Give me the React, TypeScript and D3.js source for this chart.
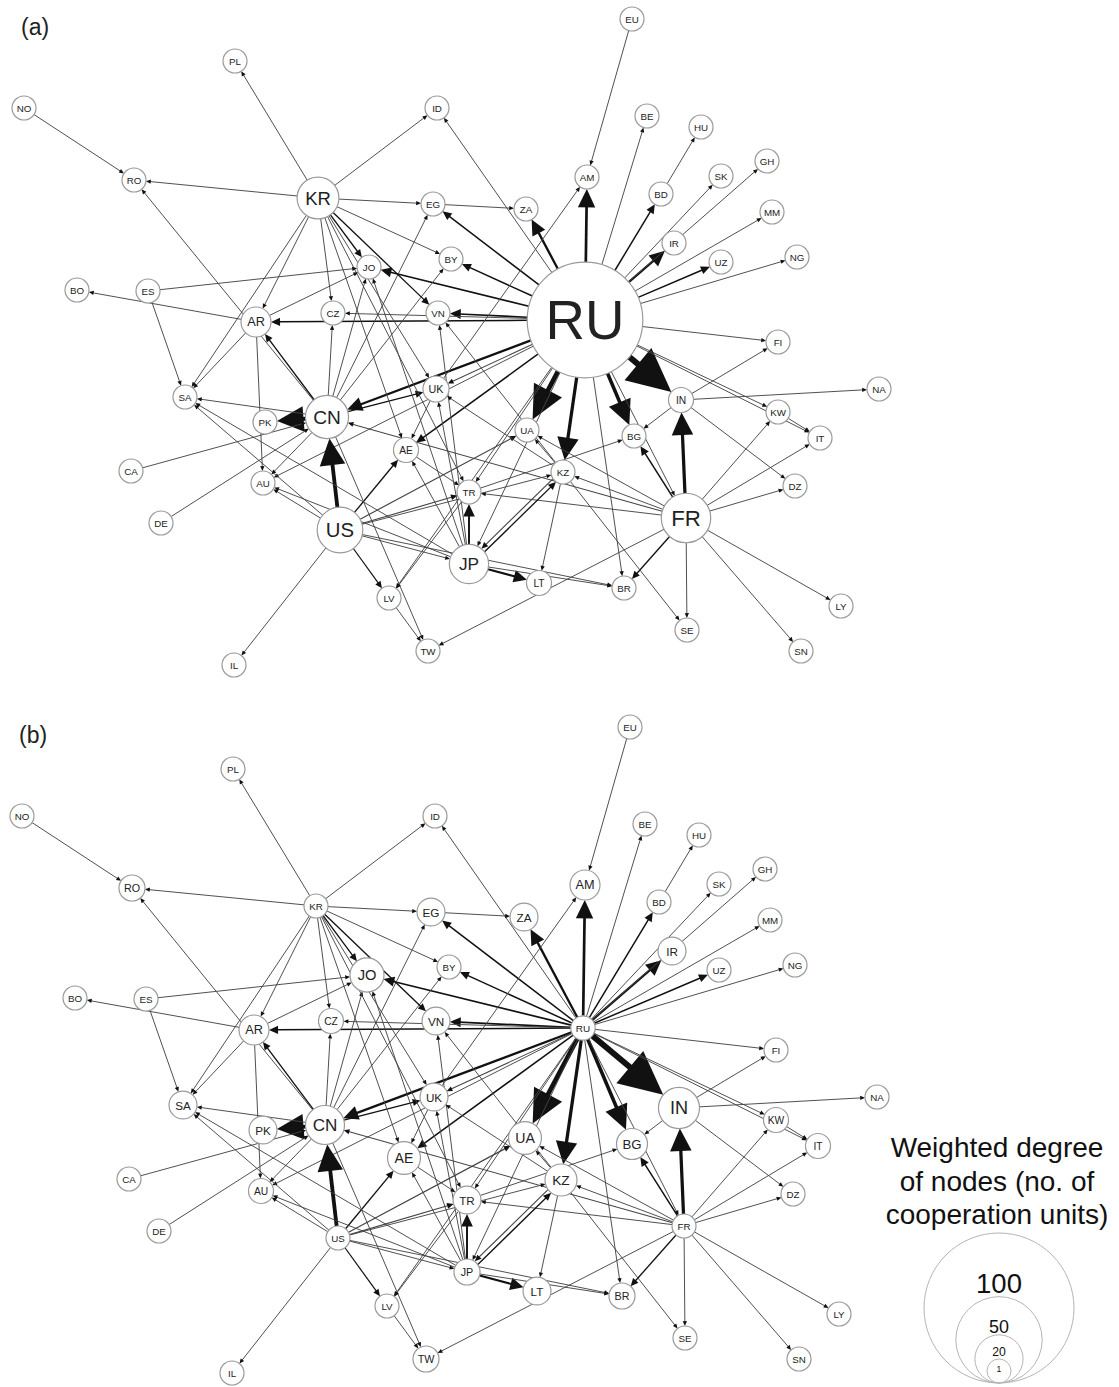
import React from "react";
import * as d3 from "d3";

const countries = ["RU","FR","US","CN","KR","JP","AR","UK","AE","LT","IN","UA","KZ","BG","TR","JO","VN","CZ","EG","BY","ZA","AM","IR","BD","UZ","SK","GH","MM","NG","FI","NA","KW","IT","DZ","LY","SN","SE","BR","TW","LV","IL","AU","DE","CA","SA","PK","BO","ES","RO","NO","PL","ID","EU","BE","HU"];

// layout coordinates of the network (layout units)
const layoutX = [585,686,340,327,318,469,256,436,406,539,681,527,563,634,469,369,438,333,433,451,526,587,674,661,721,721,767,772,797,778,879,778,820,795,841,801,687,624,428,389,234,263,161,131,185,265,77,148,134,24,235,437,632,647,701];
const layoutY = [320,518,530,417,198,564,322,389,450,583,400,430,472,436,492,267,313,313,204,259,209,177,243,194,262,176,161,212,257,342,389,412,438,486,606,651,630,588,651,598,665,483,523,471,397,422,290,291,180,108,61,108,19,116,127];

// weighted degree per node, panel (a) (outgoing) and panel (b) (incoming)
const weightedOutA = [73,21,18,16,15,13,5.7,2.6,1.8,1.8,1.8,1,1,1,1,1,1,1,1,1,1,1,1,1,1,1,1,1,1,1,1,1,1,1,1,1,1,1,1,1,1,1,1,1,1,1,1,1,1,1,1,1,1,1,1];
const weightedInB = [1.3,1,1,12.8,1,2.6,5.7,4.1,8,4.1,14.4,8,7.3,6.5,4.1,8.9,4.1,1.8,4.1,1,4.1,5.7,4.1,1,1,1,1,1,1,1,1,1.8,1.8,1,1,1,1,2.6,2.6,1,1,1.8,1,1,4.1,4.1,1,1,2.6,1,1,1,1,1,1];

// directed cooperation links: [source, target, weight]
const edges: [string, string, number][] = [
  ["RU","IN",10],["RU","UA",7.5],["RU","KZ",5],["RU","BG",5.5],["RU","CN",3.2],["RU","AM",4],["RU","IR",3.3],
  ["RU","ZA",3.3],["RU","VN",2.2],["RU","JO",2.2],["RU","AR",1.8],["RU","EG",1.8],["RU","BY",1.8],["RU","BD",1.8],
  ["RU","UZ",1.8],["RU","AE",1.8],["RU","CZ",0.8],["RU","UK",1],["RU","AU",0.8],["RU","TR",0.8],["RU","LV",0.8],
  ["RU","JP",0.8],["RU","ID",0.8],["RU","BE",0.8],["RU","SK",0.8],["RU","GH",0.8],["RU","MM",0.8],["RU","NG",0.8],
  ["RU","FI",0.8],["RU","KW",0.8],["RU","IT",0.8],["RU","BR",0.8],["RU","FR",0.8],
  ["FR","IN",5],["FR","BG",1.8],["FR","BR",1.5],["FR","KZ",0.8],["FR","TR",0.8],["FR","CN",1],["FR","UA",0.8],
  ["FR","TW",0.8],["FR","KW",0.8],["FR","IT",0.8],["FR","DZ",0.8],["FR","LY",0.8],["FR","SN",0.8],["FR","SE",0.8],
  ["US","CN",6],["US","AE",1.5],["US","UA",1.2],["US","TR",1.2],["US","KZ",0.8],["US","JP",0.8],["US","BR",0.8],
  ["US","LV",1.3],["US","IL",0.8],["US","AU",0.8],["US","SA",0.8],
  ["CN","PK",6],["CN","AR",1.5],["CN","UK",1.5],["CN","SA",0.8],["CN","CZ",0.8],["CN","JO",0.8],["CN","EG",0.8],
  ["CN","BY",0.8],["CN","AU",0.8],["CN","TW",0.8],["CN","RO",0.8],
  ["KR","JO",1.5],["KR","VN",1.5],["KR","EG",0.8],["KR","RO",0.8],["KR","PL",0.8],["KR","ID",0.8],["KR","CZ",0.8],
  ["KR","AR",0.8],["KR","SA",0.8],["KR","AE",0.8],["KR","TR",0.8],["KR","BY",0.8],["KR","UK",0.8],
  ["JP","TR",2.6],["JP","LT",2.8],["JP","KZ",1.5],["JP","BR",0.8],["JP","UK",0.8],["JP","VN",0.8],["JP","AE",0.8],
  ["JP","SA",0.8],["JP","JO",0.8],["JP","AU",0.8],
  ["KZ","JP",1.2],["KZ","LT",0.8],["KZ","UA",0.8],["KZ","UK",0.8],["KZ","VN",0.8],["KZ","SE",0.8],
  ["AR","BO",0.8],["AR","SA",0.8],["AR","JO",0.8],["AR","AU",0.8],
  ["IN","BG",0.8],["IN","DZ",0.8],["IN","NA",0.8],["IN","FI",0.8],
  ["TR","LV",0.8],["TR","BG",0.8],["UK","AM",0.8],["UK","AE",0.8],["AE","TR",0.8],
  ["EG","ZA",0.8],["EU","AM",0.8],["BD","HU",0.8],["NO","RO",0.8],["ES","JO",0.8],["ES","SA",0.8],
  ["CA","CN",0.8],["DE","CN",0.8],["LV","TW",0.8],["KW","IT",0.8]
];

const legendValues = [100, 50, 20, 1];
const legendTitle = ["Weighted degree", "of nodes (no. of", "cooperation units)"];

const radius = d3.scaleLinear().domain([1, 100]).range([12, 75]);
const FONT = "'Liberation Sans', Arial, Helvetica, sans-serif";

function Panel({ offsetX, offsetY, degree, tag }: { offsetX: number; offsetY: number; degree: number[]; tag: string }) {
  const x = d3.scaleLinear().domain([0, 1000]).range([offsetX, offsetX + 1000]);
  const y = d3.scaleLinear().domain([0, 700]).range([offsetY, offsetY + 700]);
  const idx = new Map(countries.map((c, i) => [c, i] as [string, number]));
  const nodes = countries.map((c, i) => ({ id: c, x: x(layoutX[i]), y: y(layoutY[i]), r: radius(degree[i]) }));
  const pairSet = new Set(edges.map((e) => e[0] + ">" + e[1]));
  const widthScale = d3.scaleLinear().domain([0, 10]).range([0.5, 6]);
  const arrowLen = d3.scaleLinear().domain([0, 10]).range([1.5, 43.5]);
  const arrowWid = d3.scaleLinear().domain([0, 10]).range([1, 42]);

  const edgeEls = edges.map(([s, t, w], k) => {
    const a = nodes[idx.get(s)!];
    const b = nodes[idx.get(t)!];
    const dx = b.x - a.x, dy = b.y - a.y;
    const L = Math.hypot(dx, dy);
    const ux = dx / L, uy = dy / L;
    const px = -uy, py = ux;
    const off = pairSet.has(t + ">" + s) ? 2.2 : 0;
    const sx = a.x + ux * a.r + px * off, sy = a.y + uy * a.r + py * off;
    const tx = b.x - ux * b.r + px * off, ty = b.y - uy * b.r + py * off;
    const al = arrowLen(w), aw = arrowWid(w);
    const bx = tx - ux * al, by = ty - uy * al;
    const lx = tx - ux * al * 0.85, ly = ty - uy * al * 0.85;
    const pts = [
      [tx, ty],
      [bx + px * aw / 2, by + py * aw / 2],
      [bx - px * aw / 2, by - py * aw / 2],
    ].map((p) => p.join(",")).join(" ");
    return (
      <g key={k}>
        <line x1={sx} y1={sy} x2={lx} y2={ly} stroke={w > 1.2 ? "#111" : "#444"} strokeWidth={widthScale(w)} />
        <polygon points={pts} fill="#111" />
      </g>
    );
  });

  return (
    <g>
      <text x={offsetX + 21} y={offsetY + 35} fontSize={23} fill="#222" fontFamily={FONT}>{tag}</text>
      {edgeEls}
      {nodes.map((n) => (
        <g key={n.id}>
          <circle cx={n.x} cy={n.y} r={n.r} fill="#fff" stroke="#9a9a9a" strokeWidth={1.2} />
          <text x={n.x} y={n.y} textAnchor="middle" dominantBaseline="central" fontSize={0.98 * n.r - 2}
            fill="#222" fontFamily={FONT}>{n.id}</text>
        </g>
      ))}
    </g>
  );
}

function Legend() {
  const cx = 999, bottom = 1383;
  return (
    <g fontFamily={FONT} fill="#111">
      {legendTitle.map((t, i) => (
        <text key={t} x={997} y={1157 + i * 33.5} textAnchor="middle" fontSize={28}>{t}</text>
      ))}
      {legendValues.map((v) => {
        const r = radius(v);
        const cy = bottom - r;
        return (
          <g key={v}>
            <circle cx={cx} cy={cy} r={r} fill="none" stroke="#b5b5b5" strokeWidth={1} />
            <text x={cx} y={cy - 0.35 * r + 2} textAnchor="middle" dominantBaseline="central" fontSize={0.3 * r + 5}>{v}</text>
          </g>
        );
      })}
    </g>
  );
}

export default function App() {
  return (
    <svg width={1119} height={1387} style={{ position: "absolute", left: 0, top: 0, background: "#fff" }}>
      <rect width={1119} height={1387} fill="#fff" />
      <Panel offsetX={0} offsetY={0} degree={weightedOutA} tag="(a)" />
      <Panel offsetX={-2} offsetY={708} degree={weightedInB} tag="(b)" />
      <Legend />
    </svg>
  );
}
